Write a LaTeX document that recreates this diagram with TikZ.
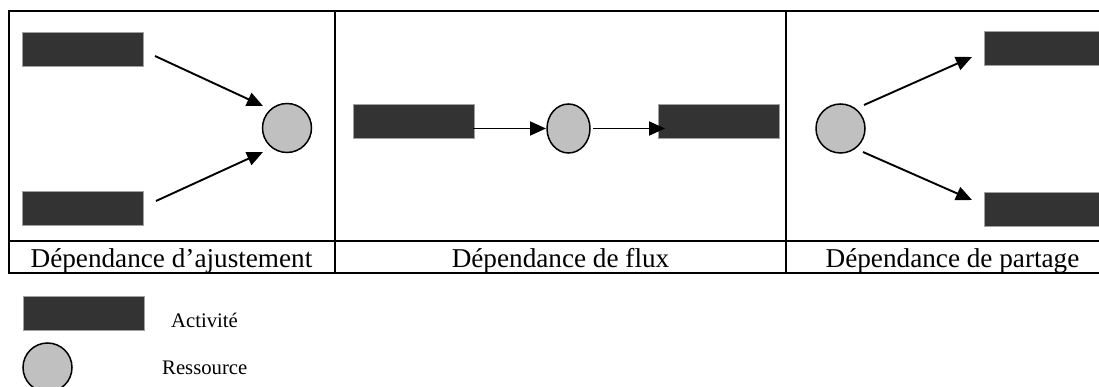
\documentclass[tikz,border=0pt]{standalone}
\usepackage{fontspec}
\setmainfont{Liberation Serif}
\usetikzlibrary{arrows.meta,shapes.geometric}
\definecolor{actfill}{HTML}{333333}
\definecolor{actedge}{HTML}{A0A0A0}
\definecolor{resfill}{HTML}{C0C0C0}
\tikzset{
 actbox/.style={rectangle, fill=actfill, draw=actedge, line width=0.8pt, minimum width=121pt, minimum height=34pt, inner sep=0pt, outer sep=0pt},
 resdisc/.style={circle, fill=resfill, draw=black, line width=1.5pt, minimum size=49pt, inner sep=0pt},
 resoval/.style={ellipse, fill=resfill, draw=black, line width=1.5pt, minimum width=43pt, minimum height=49pt, inner sep=0pt},
 tabline/.style={line width=2.7pt},
 link/.style={line width=1.9pt, -{Triangle[length=16pt,width=14pt]}},
 caption/.style={font=\fontsize{27.2}{30}\selectfont, anchor=base, inner sep=0pt},
 legendtext/.style={font=\fontsize{20.7}{24}\selectfont, anchor=base west, inner sep=0pt},
}
\begin{document}
\begin{tikzpicture}[x=1pt,y=-1pt]
\useasboundingbox (0,0) rectangle (1099,387);
\clip (0,0) rectangle (1099,387);
% table
\draw[tabline] (9,11) -- (1110,11);
\draw[tabline] (9,241) -- (1110,241);
\draw[tabline] (9,273) -- (1110,273);
\draw[tabline] (9,9.65) -- (9,274.35);
\draw[tabline] (335,11) -- (335,273);
\draw[tabline] (786,11) -- (786,273);
% cell 1
\node[actbox] (a1) at (83,49) {};
\node[actbox] (a2) at (83,208.5) {};
\node[resdisc] (r1) at (287,128) {};
\coordinate (s1) at (155,56);
\coordinate (e1) at (263,106);
\coordinate (s2) at (156,201);
\coordinate (e2) at (263,152);
\draw[link] (s1) -- (e1);
\draw[link] (s2) -- (e2);
% cell 2
\node[actbox] (a3) at (413.5,121) {};
\node[resoval] (r2) at (568.5,128.5) {};
\node[actbox] (a4) at (719,121) {};
\coordinate (s3) at (473,128.5);
\coordinate (e3) at (546,128.5);
\coordinate (s4) at (593,128.5);
\coordinate (e4) at (665,128.5);
\draw[link] (s3) -- (e3);
\draw[link] (s4) -- (e4);
% cell 3
\node[resdisc] (r3) at (840.5,128.5) {};
\node[actbox] (a5) at (1044.5,48.5) {};
\node[actbox] (a6) at (1044.5,209) {};
\coordinate (s5) at (864,105);
\coordinate (e5) at (972,57);
\coordinate (s6) at (863,152);
\coordinate (e6) at (972,200);
\draw[link] (s5) -- (e5);
\draw[link] (s6) -- (e6);
% captions
\node[caption] (c1) at (171.5,267) {Dépendance d’ajustement};
\node[caption] (c2) at (560.5,267) {Dépendance de flux};
\node[caption] (c3) at (952.5,267) {Dépendance de partage};
% legend
\node[actbox] (la) at (83.5,313) {};
\node[resdisc] (lr) at (47.5,367.5) {};
\node[legendtext] (lt1) at (171,327) {Activité};
\node[legendtext] (lt2) at (162,374) {Ressource};
\end{tikzpicture}
\end{document}
